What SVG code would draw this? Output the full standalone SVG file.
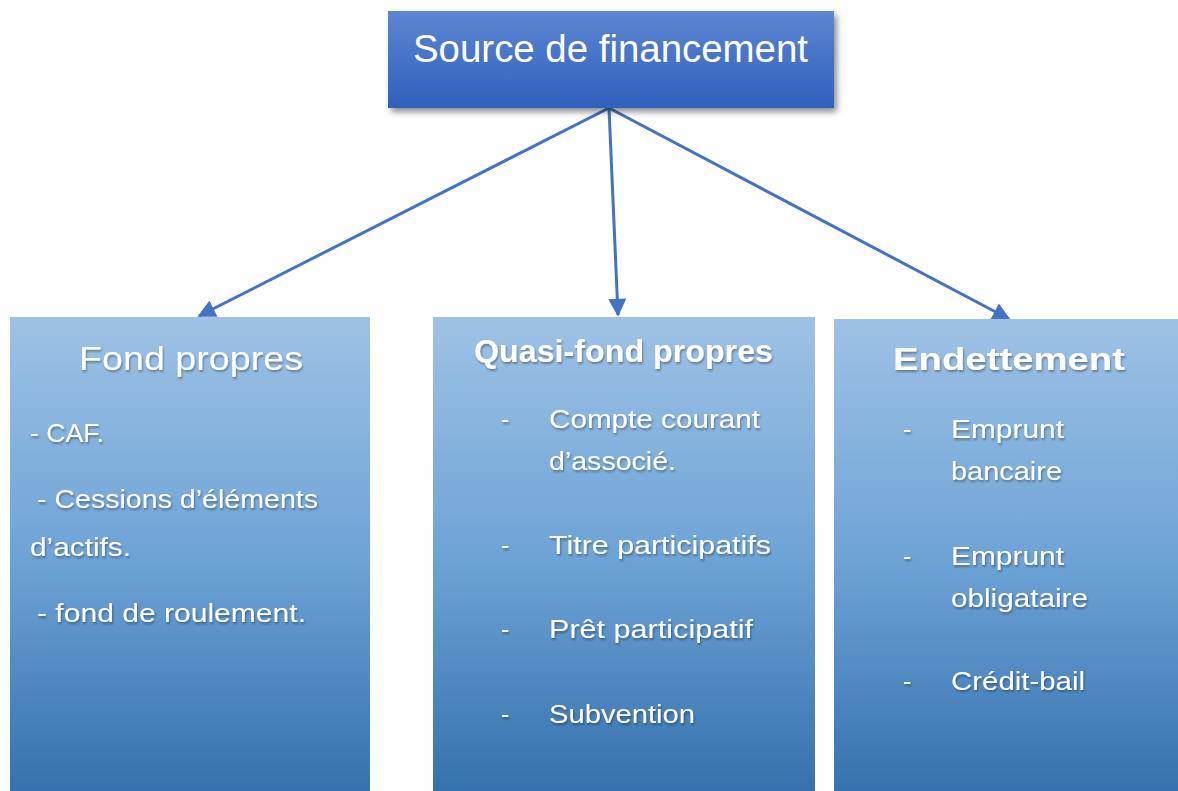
<svg xmlns="http://www.w3.org/2000/svg" width="1178" height="791" viewBox="0 0 1178 791">
<defs>
<linearGradient id="gTop" x1="0" y1="0" x2="0" y2="1">
<stop offset="0" stop-color="#5D86D2"/>
<stop offset="1" stop-color="#2F60BC"/>
</linearGradient>
<linearGradient id="gBox" x1="0" y1="0" x2="0" y2="1">
<stop offset="0" stop-color="#9EC2E5"/>
<stop offset="0.5" stop-color="#6EA3D6"/>
<stop offset="1" stop-color="#3470AC"/>
</linearGradient>
<filter id="boxShadow" x="-10%" y="-20%" width="125%" height="150%">
<feGaussianBlur in="SourceAlpha" stdDeviation="3"/>
<feOffset dx="3" dy="4" result="b"/>
<feComponentTransfer><feFuncA type="linear" slope="0.45"/></feComponentTransfer>
<feMerge><feMergeNode/><feMergeNode in="SourceGraphic"/></feMerge>
</filter>
<filter id="txtShadow" x="-5%" y="-20%" width="115%" height="150%">
<feGaussianBlur in="SourceAlpha" stdDeviation="1"/>
<feOffset dx="1" dy="1.5" result="b"/>
<feComponentTransfer><feFuncA type="linear" slope="0.35"/></feComponentTransfer>
<feMerge><feMergeNode/><feMergeNode in="SourceGraphic"/></feMerge>
</filter>
<marker id="arrow" viewBox="0 0 10 10" refX="9" refY="5" markerWidth="6.5" markerHeight="6" orient="auto" markerUnits="strokeWidth">
<path d="M0,0 L10,5 L0,10 Z" fill="#4472C4"/>
</marker>
<style>
.t{font-family:"Liberation Sans",Arial,sans-serif;fill:#FFFFFF;}
.title{font-size:38px;}
.h{font-size:34px;}
.hb{font-size:32px;font-weight:bold;}
.li{font-size:25px;}
.conn{stroke:#4472C4;stroke-width:3;fill:none;}
</style>
</defs>

<g id="connectors">
<line class="conn" x1="609" y1="108" x2="199" y2="316" marker-end="url(#arrow)"/>
<line class="conn" x1="609" y1="108" x2="618" y2="315" marker-end="url(#arrow)"/>
<line class="conn" x1="609" y1="108" x2="1009" y2="319" marker-end="url(#arrow)"/>
</g>

<g id="node-source">
<rect x="388" y="11" width="446" height="97" fill="url(#gTop)" filter="url(#boxShadow)"/>
<text class="t title" x="413" y="62" textLength="395" lengthAdjust="spacingAndGlyphs">Source de financement</text>
</g>

<g id="node-fond-propres">
<rect x="10" y="317" width="360" height="480" fill="url(#gBox)"/>
<g filter="url(#txtShadow)">
<text class="t h" x="79" y="370" textLength="224" lengthAdjust="spacingAndGlyphs">Fond propres</text>
<text class="t li" x="30" y="442" textLength="74" lengthAdjust="spacingAndGlyphs">- CAF.</text>
<text class="t li" x="37" y="508" textLength="281" lengthAdjust="spacingAndGlyphs">- Cessions d’éléments</text>
<text class="t li" x="30" y="556" textLength="101" lengthAdjust="spacingAndGlyphs">d’actifs.</text>
<text class="t li" x="37" y="622" textLength="269" lengthAdjust="spacingAndGlyphs">- fond de roulement.</text>
</g>
</g>

<g id="node-quasi-fond-propres">
<rect x="433" y="317" width="382" height="480" fill="url(#gBox)"/>
<g filter="url(#txtShadow)">
<text class="t hb" x="474" y="362" textLength="299" lengthAdjust="spacingAndGlyphs">Quasi-fond propres</text>
<text class="t li" x="501" y="428">-</text>
<text class="t li" x="549" y="428" textLength="211" lengthAdjust="spacingAndGlyphs">Compte courant</text>
<text class="t li" x="549" y="470" textLength="127" lengthAdjust="spacingAndGlyphs">d’associé.</text>
<text class="t li" x="501" y="554">-</text>
<text class="t li" x="549" y="554" textLength="222" lengthAdjust="spacingAndGlyphs">Titre participatifs</text>
<text class="t li" x="501" y="638">-</text>
<text class="t li" x="549" y="638" textLength="204" lengthAdjust="spacingAndGlyphs">Prêt participatif</text>
<text class="t li" x="501" y="723">-</text>
<text class="t li" x="549" y="723" textLength="146" lengthAdjust="spacingAndGlyphs">Subvention</text>
</g>
</g>

<g id="node-endettement">
<rect x="834" y="319" width="350" height="480" fill="url(#gBox)"/>
<g filter="url(#txtShadow)">
<text class="t hb" x="893" y="370" textLength="232" lengthAdjust="spacingAndGlyphs">Endettement</text>
<text class="t li" x="903" y="438">-</text>
<text class="t li" x="951" y="438" textLength="113" lengthAdjust="spacingAndGlyphs">Emprunt</text>
<text class="t li" x="951" y="480" textLength="111" lengthAdjust="spacingAndGlyphs">bancaire</text>
<text class="t li" x="903" y="565">-</text>
<text class="t li" x="951" y="565" textLength="113" lengthAdjust="spacingAndGlyphs">Emprunt</text>
<text class="t li" x="951" y="607" textLength="137" lengthAdjust="spacingAndGlyphs">obligataire</text>
<text class="t li" x="903" y="690">-</text>
<text class="t li" x="951" y="690" textLength="134" lengthAdjust="spacingAndGlyphs">Crédit-bail</text>
</g>
</g>
</svg>
